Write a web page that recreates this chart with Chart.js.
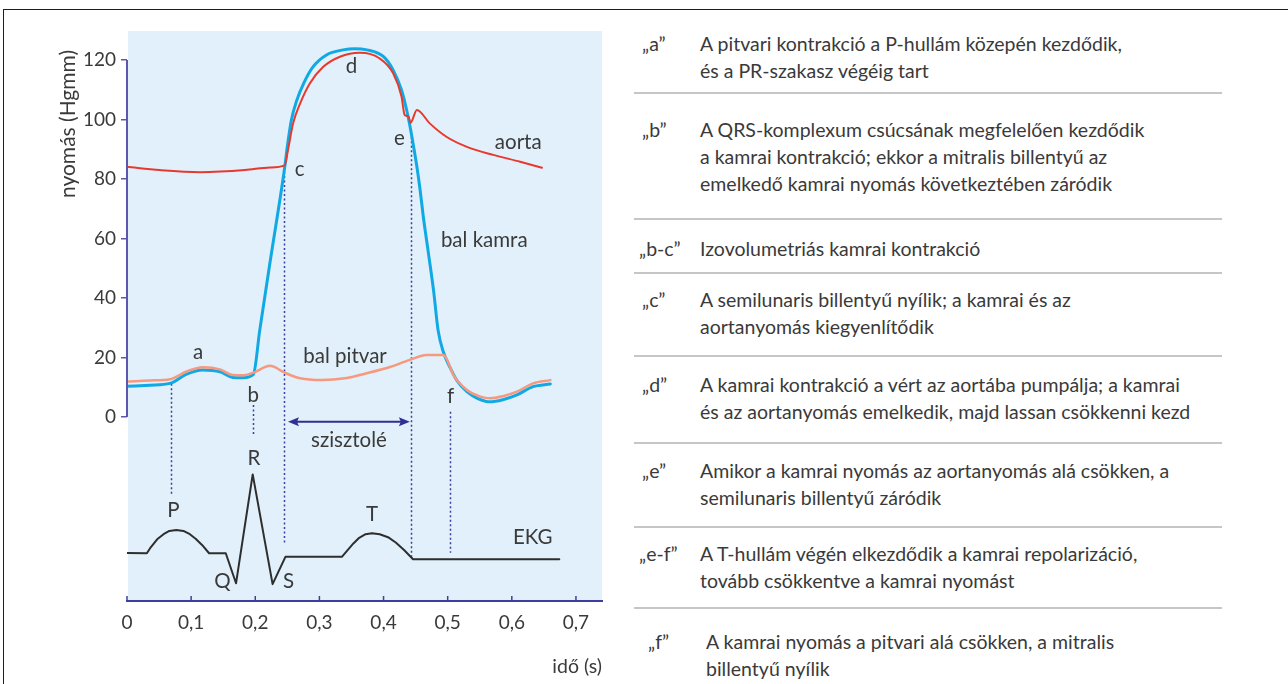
<!DOCTYPE html>
<html>
<head>
<meta charset="utf-8">
<script src="https://cdn.jsdelivr.net/npm/chart.js@4.4.1/dist/chart.umd.min.js"></script>
<style>
  * { margin: 0; padding: 0; box-sizing: border-box; }
  body {
    width: 1288px; height: 684px; background: #fff;
    position: relative; overflow: hidden;
    font-family: Lato, "Noto Sans", sans-serif; color: #3a3a3a;
  }
  .frame {
    position: absolute; left: 3px; top: 9px; width: 1300px; height: 700px;
    border-top: 1px solid #1e1e1e; border-left: 1px solid #1e1e1e;
  }
  #chartBox { position: absolute; left: 0; top: 0; width: 620px; height: 684px; }
  .sep { position: absolute; left: 634px; width: 588px; height: 2px; background: #c6c6c6; }
  .key, .txt { position: absolute; font-size: 19.5px; line-height: 27px; white-space: nowrap; }
</style>
</head>
<body>
<div class="frame"></div>
<div id="chartBox"><canvas id="chart" width="620" height="684"></canvas></div>
<div id="notes"></div>

<script>
// idő (s) és nyomás (Hgmm) értékek
const xTicks = [0, 0.1, 0.2, 0.3, 0.4, 0.5, 0.6, 0.7];
const yTicks = [0, 20, 40, 60, 80, 100, 120];

const aortaTime = [0, 0.051, 0.114, 0.184, 0.223, 0.246, 0.251, 0.259, 0.270, 0.285, 0.306, 0.332, 0.363,
  0.394, 0.415, 0.428, 0.433, 0.439, 0.442, 0.452, 0.472, 0.498, 0.530, 0.571, 0.613, 0.647];
const aortaPressure = [84.1, 83.0, 82.3, 83.0, 83.9, 84.6, 89.7, 98.7, 105.4, 112.1, 117.7, 121.1, 122.4,
  120.5, 115.5, 107.7, 101.5, 101.0, 98.9, 103.2, 98.7, 94.2, 90.8, 88.1, 85.8, 83.8];

const kamraTime = [0, 0.036, 0.067, 0.093, 0.118, 0.145, 0.165, 0.181, 0.197, 0.207, 0.223, 0.246, 0.250,
  0.256, 0.264, 0.276, 0.290, 0.311, 0.337, 0.355, 0.374, 0.400, 0.415, 0.428, 0.436, 0.441, 0.446, 0.452,
  0.457, 0.462, 0.470, 0.478, 0.485, 0.493, 0.504, 0.514, 0.530, 0.547, 0.566, 0.586, 0.608, 0.633, 0.660];
const kamraPressure = [10.3, 10.7, 11.3, 14.4, 15.8, 15.2, 13.3, 13.2, 14.3, 29.2, 52.0, 84.1, 91.0,
  99.5, 106.0, 112.4, 117.7, 121.7, 123.4, 123.8, 123.4, 121.1, 116.6, 109.9, 103.2, 98.0, 92.0, 84.1,
  76.3, 67.3, 55.0, 42.5, 29.2, 22.0, 16.5, 12.4, 8.5, 6.2, 5.1, 5.8, 7.4, 10.2, 11.1];

const pitvarTime = [0, 0.036, 0.067, 0.093, 0.118, 0.145, 0.165, 0.181, 0.197, 0.223, 0.246, 0.270, 0.304,
  0.340, 0.374, 0.410, 0.441, 0.467, 0.493, 0.498, 0.509, 0.530, 0.547, 0.566, 0.586, 0.608, 0.633, 0.660];
const pitvarPressure = [11.9, 12.3, 12.7, 15.3, 16.7, 16.0, 14.1, 14.0, 14.9, 17.2, 14.9, 13.0, 12.4,
  13.0, 14.7, 16.8, 19.2, 20.8, 20.8, 19.7, 14.1, 9.1, 7.2, 6.3, 7.0, 8.5, 11.3, 12.4];

// EKG a nyomástengely negatív tartományában
const ekgTime = [0, 0.031, 0.037, 0.047, 0.057, 0.066, 0.077, 0.088, 0.098, 0.107, 0.117, 0.128, 0.154,
  0.170, 0.196, 0.227, 0.247, 0.335, 0.343, 0.353, 0.362, 0.372, 0.382, 0.394, 0.407, 0.419, 0.432, 0.446, 0.674];
const ekgLevel = [-45.7, -45.8, -43.8, -41.1, -39.4, -38.3, -38.0, -38.3, -39.4, -40.9, -43.0, -45.8, -45.8,
  -55.9, -19.3, -56.2, -47.0, -47.0, -45.0, -42.5, -40.6, -39.4, -39.1, -39.4, -40.4, -42.2, -44.7, -47.8, -47.8];

// szaggatott függőleges jelölővonalak
const markerTime = [0.069, 0.197, 0.245, 0.443, 0.504];
const markerFrom = [11.2, 4.0, 84.0, 94.2, 1.8];
const markerTo = [-26.2, -6.0, -42.4, -47.0, -45.6];

// szisztolé nyíl
const systoleFrom = 0.251, systoleTo = 0.441, systoleLevel = -1.6;

const curveLabels = [
  ['a', 0.111, 21.6], ['b', 0.197, 7.4], ['c', 0.269, 83.3], ['d', 0.350, 117.7], ['e', 0.4246, 93.7],
  ['aorta', 0.610, 92.2], ['bal kamra', 0.557, 59.5], ['bal pitvar', 0.340, 20.3], ['f', 0.5046, 6.8],
  ['P', 0.0725, -31.3], ['R', 0.198, -13.9], ['Q', 0.149, -55.4], ['S', 0.252, -55.4], ['T', 0.382, -32.6],
  ['EKG', 0.6325, -40.4], ['szisztolé', 0.346, -7.7]
];

const noteKeys = ['„a”', '„b”', '„b-c”', '„c”', '„d”', '„e”', '„e-f”', '„f”'];
const noteLines = [
  ['A pitvari kontrakció a P-hullám közepén kezdődik,', 'és a PR-szakasz végéig tart'],
  ['A QRS-komplexum csúcsának megfelelően kezdődik', 'a kamrai kontrakció; ekkor a mitralis billentyű az', 'emelkedő kamrai nyomás következtében záródik'],
  ['Izovolumetriás kamrai kontrakció'],
  ['A semilunaris billentyű nyílik; a kamrai és az', 'aortanyomás kiegyenlítődik'],
  ['A kamrai kontrakció a vért az aortába pumpálja; a kamrai', 'és az aortanyomás emelkedik, majd lassan csökkenni kezd'],
  ['Amikor a kamrai nyomás az aortanyomás alá csökken, a', 'semilunaris billentyű záródik'],
  ['A T-hullám végén elkezdődik a kamrai repolarizáció,', 'tovább csökkentve a kamrai nyomást'],
  ['A kamrai nyomás a pitvari alá csökken, a mitralis', 'billentyű nyílik']
];
const noteFirstY = [43, 129, 248, 299, 384, 470, 553, 641];
const noteKeyX = [642, 642, 639, 642, 642, 642, 639, 648];
const noteTextX = [700, 700, 700, 700, 700, 700, 700, 706];
const separatorY = [93, 219, 273, 356, 443, 527, 608];

const notes = document.getElementById('notes');
noteKeys.forEach((key, i) => {
  const k = document.createElement('div');
  k.className = 'key';
  k.textContent = key;
  k.style.left = noteKeyX[i] + 'px';
  k.style.top = (noteFirstY[i] - 13.5) + 'px';
  notes.appendChild(k);
  noteLines[i].forEach((line, j) => {
    const t = document.createElement('div');
    t.className = 'txt';
    t.textContent = line;
    t.style.left = noteTextX[i] + 'px';
    t.style.top = (noteFirstY[i] - 13.5 + j * 27) + 'px';
    notes.appendChild(t);
  });
});
separatorY.forEach(y => {
  const s = document.createElement('div');
  s.className = 'sep';
  s.style.top = (y - 1) + 'px';
  notes.appendChild(s);
});

const pts = (xs, ys) => xs.map((x, i) => ({x: x, y: ys[i]}));

const axisBlue = '#3d3f9c';
const axisPurple = '#5e55ad';
const textColor = '#3a3a3a';

const decor = {
  id: 'decor',
  beforeDraw(chart) {
    const {ctx, chartArea: a} = chart;
    ctx.save();
    ctx.fillStyle = '#e1f0fa';
    ctx.fillRect(a.left + 1, a.top, a.right - a.left - 1, a.bottom - a.top);
    ctx.restore();
  },
  beforeDatasetsDraw(chart) {
    const {ctx, scales: {x, y}} = chart;
    ctx.save();
    ctx.strokeStyle = axisBlue;
    ctx.lineWidth = 1.5;
    ctx.setLineDash([2, 2.5]);
    markerTime.forEach((t, i) => {
      const px = Math.round(x.getPixelForValue(t)) + 0.5;
      ctx.beginPath();
      ctx.moveTo(px, y.getPixelForValue(markerFrom[i]));
      ctx.lineTo(px, y.getPixelForValue(markerTo[i]));
      ctx.stroke();
    });
    ctx.setLineDash([]);
    // szisztolé nyíl
    const x1 = x.getPixelForValue(systoleFrom), x2 = x.getPixelForValue(systoleTo);
    const py = y.getPixelForValue(systoleLevel);
    ctx.strokeStyle = '#2e3192';
    ctx.fillStyle = '#2e3192';
    ctx.lineWidth = 2;
    ctx.beginPath();
    ctx.moveTo(x1 + 8, py);
    ctx.lineTo(x2 - 8, py);
    ctx.stroke();
    [[x1, 1], [x2, -1]].forEach(([hx, dir]) => {
      ctx.beginPath();
      ctx.moveTo(hx, py);
      ctx.lineTo(hx + dir * 11, py - 4.5);
      ctx.lineTo(hx + dir * 9, py);
      ctx.lineTo(hx + dir * 11, py + 4.5);
      ctx.closePath();
      ctx.fill();
    });
    ctx.restore();
  },
  afterDraw(chart) {
    const {ctx, chartArea: a, scales: {x, y}} = chart;
    ctx.save();
    // y tengely csak 0..120 között
    ctx.strokeStyle = axisPurple;
    ctx.lineWidth = 2;
    ctx.beginPath();
    ctx.moveTo(a.left, y.getPixelForValue(yTicks[0]));
    ctx.lineTo(a.left, y.getPixelForValue(yTicks[yTicks.length - 1]));
    ctx.stroke();
    // x tengely befelé mutató osztásai
    ctx.strokeStyle = axisBlue;
    ctx.lineWidth = 1.5;
    xTicks.forEach(t => {
      const px = x.getPixelForValue(t);
      ctx.beginPath();
      ctx.moveTo(px, a.bottom);
      ctx.lineTo(px, a.bottom - 5);
      ctx.stroke();
    });
    // feliratok a görbéken
    ctx.fillStyle = textColor;
    ctx.font = '20.5px Lato';
    ctx.textAlign = 'center';
    ctx.textBaseline = 'middle';
    curveLabels.forEach(([txt, t, v]) => {
      ctx.fillText(txt, x.getPixelForValue(t), y.getPixelForValue(v));
    });
    // függőleges tengelycím
    ctx.translate(68, 124);
    ctx.rotate(-Math.PI / 2);
    ctx.font = '21px Lato';
    ctx.fillText('nyomás (Hgmm)', 0, 0);
    ctx.restore();
  }
};

new Chart(document.getElementById('chart'), {
  type: 'line',
  data: {
    datasets: [
      {label: 'aorta', data: pts(aortaTime, aortaPressure), borderColor: '#e8392d', borderWidth: 2, cubicInterpolationMode: 'monotone'},
      {label: 'bal pitvar', data: pts(pitvarTime, pitvarPressure), borderColor: '#f59a80', borderWidth: 2.5, cubicInterpolationMode: 'monotone'},
      {label: 'bal kamra', data: pts(kamraTime, kamraPressure), borderColor: '#10a9e4', borderWidth: 3, cubicInterpolationMode: 'monotone'},
      {label: 'EKG', data: pts(ekgTime, ekgLevel), borderColor: '#2e2e2e', borderWidth: 2, tension: 0}
    ]
  },
  options: {
    responsive: false,
    animation: false,
    devicePixelRatio: 1,
    layout: {padding: {left: 0, top: 31, right: 18, bottom: 0}},
    elements: {point: {radius: 0}, line: {fill: false, borderJoinStyle: 'round', borderCapStyle: 'round'}},
    plugins: {legend: {display: false}, tooltip: {enabled: false}},
    scales: {
      x: {
        type: 'linear', min: 0, max: 0.7406,
        afterBuildTicks: ax => { ax.ticks = xTicks.map(v => ({value: v})); },
        afterFit: ax => { ax.height = 83; },
        grid: {display: false, drawTicks: false},
        border: {display: true, color: axisBlue, width: 2},
        ticks: {
          padding: 10, color: textColor, maxRotation: 0, autoSkip: false,
          font: {family: 'Lato', size: 19},
          callback: v => String(v).replace('.', ',')
        },
        title: {display: true, text: 'idő (s)', align: 'end', color: textColor,
          font: {family: 'Lato', size: 19.5}, padding: {top: 0, bottom: 6}}
      },
      y: {
        type: 'linear', min: -61.85, max: 129.75,
        afterBuildTicks: ax => { ax.ticks = yTicks.map(v => ({value: v})); },
        afterFit: ax => { ax.width = 127; },
        grid: {drawOnChartArea: false, drawTicks: true, tickLength: 6, color: axisPurple, lineWidth: 1.5},
        border: {display: false},
        ticks: {padding: 5, color: textColor, font: {family: 'Lato', size: 19}}
      }
    }
  },
  plugins: [decor]
});
</script>
</body>
</html>
